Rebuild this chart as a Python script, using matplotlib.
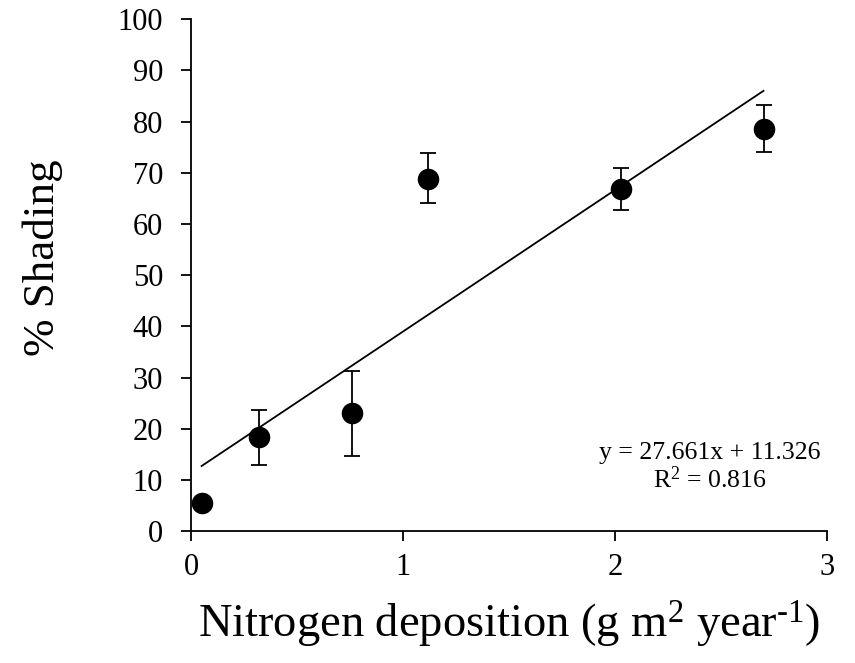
import matplotlib
matplotlib.use("Agg")
import matplotlib.pyplot as plt
import numpy as np

plt.rcParams['font.family'] = ['Liberation Serif', 'DejaVu Serif']
plt.rcParams['mathtext.fontset'] = 'custom'
plt.rcParams['mathtext.rm'] = 'Liberation Serif'
plt.rcParams['mathtext.it'] = 'Liberation Serif:italic'
plt.rcParams['mathtext.bf'] = 'Liberation Serif:bold'

nitrogen = [0.05, 0.32, 0.76, 1.12, 2.03, 2.70]
shading = [5.5, 18.3, 23.0, 68.8, 66.8, 78.5]
err_low = [0.0, 5.3, 8.3, 4.8, 4.1, 4.5]
err_high = [0.0, 5.4, 8.3, 5.0, 4.2, 4.8]
slope, intercept = 27.661, 11.326
xticks = [0, 1, 2, 3]
yticks = list(range(0, 101, 10))

fig = plt.figure(figsize=(8.55, 6.63), dpi=100)
ax = fig.add_axes([0.2234, 0.199, 0.744, 0.772])

ax.errorbar(nitrogen, shading, yerr=[err_low, err_high], fmt='o', color='black',
            markersize=14.5, ecolor='black', elinewidth=1.3, capsize=6, capthick=1.3, zorder=3)
xf = np.array([min(nitrogen), max(nitrogen)])
ax.plot(xf, slope * xf + intercept, color='black', lw=1.3, zorder=2)

ax.set_xlim(0, 3)
ax.set_ylim(0, 100)
ax.set_xticks(xticks)
ax.set_yticks(yticks)
for s in ['top', 'right']:
    ax.spines[s].set_visible(False)
for s in ['left', 'bottom']:
    ax.spines[s].set_linewidth(1.3)
ax.tick_params(direction='out', length=7, width=1.3, labelsize=22)
ax.tick_params(axis='y', pad=13)
ax.tick_params(axis='x', pad=9)

ax.set_xlabel('Nitrogen deposition (g m$^{2}$ year$^{\\text{-1}}$)', fontsize=33.5, labelpad=12)
ax.set_ylabel('% Shading', fontsize=32.5)
ax.yaxis.set_label_coords(-0.201, 0.534)

ax.text(0.815, 0.125, 'y = 27.661x + 11.326\nR$^{2}$ = 0.816', transform=ax.transAxes,
        ha='center', va='center', fontsize=18.5, linespacing=1.1)

fig.savefig('out.png', dpi=100)
